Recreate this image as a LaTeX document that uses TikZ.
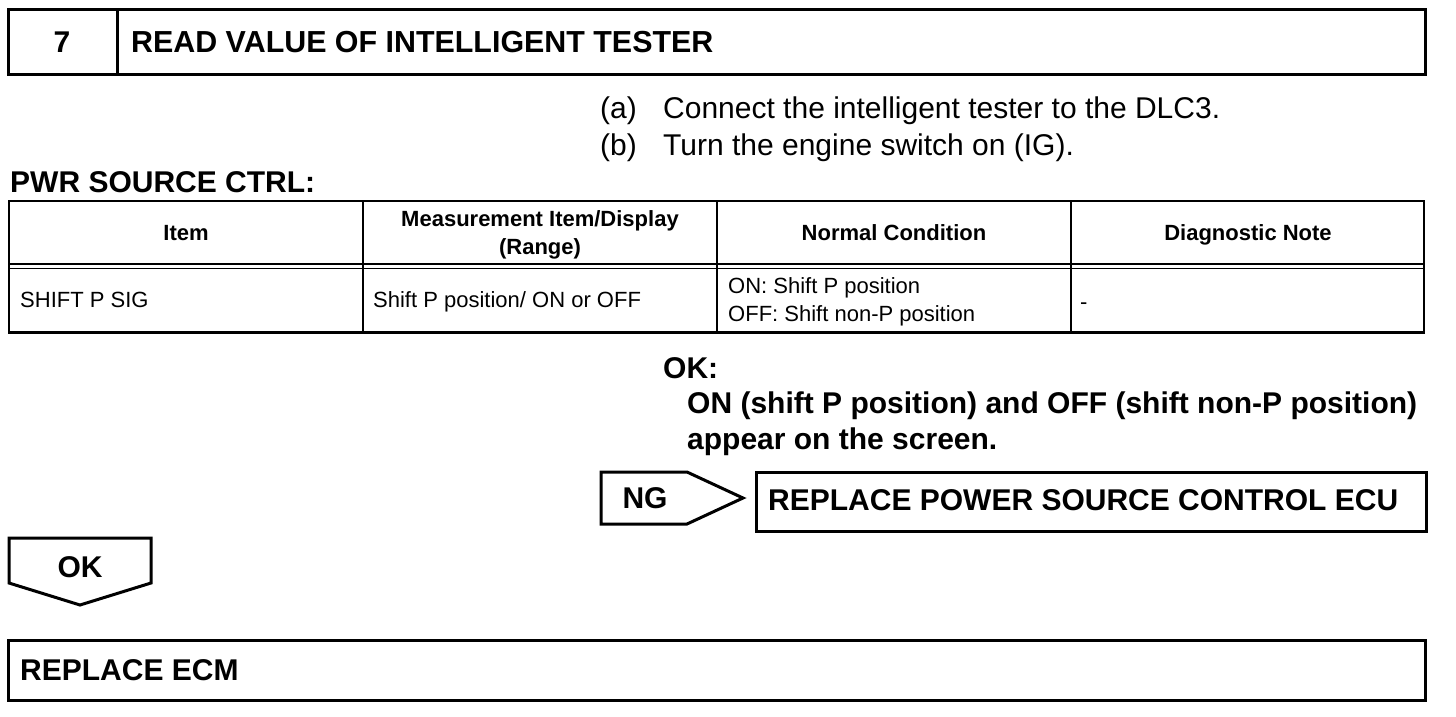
\documentclass[tikz,border=0pt]{standalone}
\usepackage{fontspec}
\setmainfont{Liberation Sans}
\begin{document}
\begin{tikzpicture}[x=1pt,y=-1pt,
  heavy/.style={draw=black, line width=3pt},
  thin/.style={draw=black, line width=1.5pt},
  big/.style={font=\fontsize{30}{37}\selectfont, inner sep=0pt},
  bigb/.style={font=\bfseries\fontsize{30}{37}\selectfont, inner sep=0pt},
  small/.style={font=\fontsize{22}{28}\selectfont, inner sep=0pt},
  smallb/.style={font=\bfseries\fontsize{22}{28}\selectfont, inner sep=0pt}]
\useasboundingbox (0,0) rectangle (1456,716);
% title box
\draw[heavy] (8,9) rectangle (1425,74);
\draw[heavy] (117,9) -- (117,74);
\node[bigb, anchor=base] (num) at (62,52) {7};
\node[bigb, anchor=base west] (title) at (131,52) {\fontsize{30.4}{37}\selectfont READ VALUE OF INTELLIGENT TESTER};
% steps
\node[big, anchor=base west] (la) at (600,118) {(a)};
\node[big, anchor=base west] (ta) at (663,118) {Connect the intelligent tester to the DLC3.};
\node[big, anchor=base west] (lb) at (600,155) {(b)};
\node[big, anchor=base west] (tb) at (663,155) {Turn the engine switch on (IG).};
\node[bigb, anchor=base west] (pwr) at (10,192) {PWR SOURCE CTRL:};
% table
\draw[thin] (363,201) -- (363,332);
\draw[thin] (717,201) -- (717,332);
\draw[thin] (1071,201) -- (1071,332);
\draw[thin] (8,264) -- (1425,264);
\draw[thin] (8,268.5) -- (1425,268.5);
\draw[draw=black, line width=2pt] (8,201) -- (1425,201);
\draw[draw=black, line width=2pt] (9,200) -- (9,333);
\draw[draw=black, line width=2pt] (1424,200) -- (1424,333);
\draw[draw=black, line width=3pt] (8,332) -- (1425,332);
\node[smallb, anchor=base] (h1) at (186,240) {Item};
\node[smallb, anchor=base] (h2a) at (540,226) {Measurement Item/Display};
\node[smallb, anchor=base] (h2b) at (540,254) {(Range)};
\node[smallb, anchor=base] (h3) at (894,240) {Normal Condition};
\node[smallb, anchor=base] (h4) at (1248,240) {Diagnostic Note};
\node[small, anchor=base west] (c1) at (20,307) {SHIFT P SIG};
\node[small, anchor=base west] (c2) at (373,307) {Shift P position/ ON or OFF};
\node[small, anchor=base west] (c3a) at (728,293) {ON: Shift P position};
\node[small, anchor=base west] (c3b) at (728,321) {OFF: Shift non-P position};
\node[small, anchor=base west] (c4) at (1080,309) {-};
% OK text
\node[bigb, anchor=base west] (okl) at (663,378) {OK:};
\node[bigb, anchor=base west] (ok1) at (687,413) {ON (shift P position) and OFF (shift non-P position)};
\node[bigb, anchor=base west] (ok2) at (687,449) {appear on the screen.};
% NG
\draw[heavy, line join=miter] (601,472) -- (687,472) -- (743,498) -- (687,524) -- (601,524) -- cycle;
\node[bigb, anchor=base] (ng) at (645,508) {NG};
\draw[heavy] (756,472) rectangle (1426,531);
\node[bigb, anchor=base west] (rpl) at (768,510) {REPLACE POWER SOURCE CONTROL ECU};
% OK arrow
\draw[heavy, line join=miter] (9,538) -- (151,538) -- (151,583) -- (80,605) -- (9,583) -- cycle;
\node[bigb, anchor=base] (ok) at (80,577) {OK};
% ECM
\draw[heavy] (8,640) rectangle (1425,700);
\node[bigb, anchor=base west] (ecm) at (20,680) {REPLACE ECM};
\end{tikzpicture}
\end{document}
